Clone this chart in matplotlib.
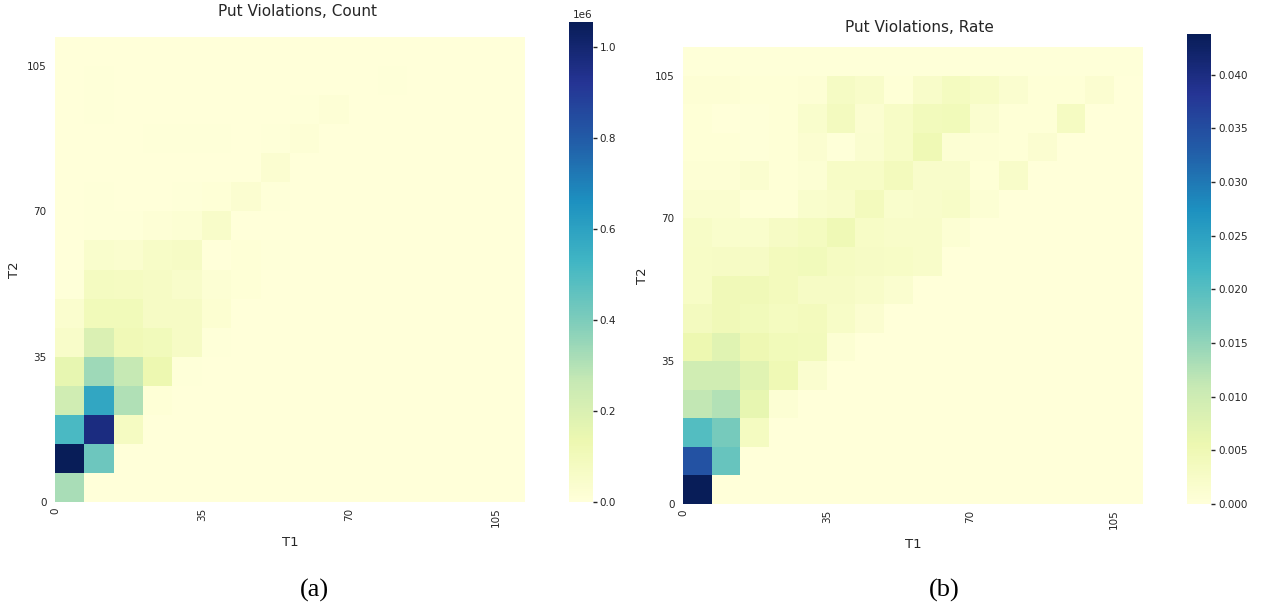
import numpy as np
import matplotlib.pyplot as plt

plt.rcParams["font.family"] = ["DejaVu Sans"]
plt.rcParams["text.color"] = ".15"
plt.rcParams["axes.labelcolor"] = ".15"

# T1 / T2 binned in steps of 7 (16 bins each)
t_edges = np.arange(0, 113, 7)
t_ticks = [0, 35, 70, 105]

# put violations per (T2 row, T1 column), in thousands; row 0 = lowest T2 bin
count_k = [
    [319, 0, 0, 0, 0, 0, 0, 0, 0, 0, 0, 0, 0, 0, 0, 0],
    [1055, 436, 0, 0, 0, 0, 0, 0, 0, 0, 0, 0, 0, 0, 0, 0],
    [508, 967, 76, 0, 0, 0, 0, 0, 0, 0, 0, 0, 0, 0, 0, 0],
    [232, 585, 306, 10, 0, 0, 0, 0, 0, 0, 0, 0, 0, 0, 0, 0],
    [156, 341, 267, 135, 5, 0, 0, 0, 0, 0, 0, 0, 0, 0, 0, 0],
    [56, 201, 115, 99, 69, 6, 0, 0, 0, 0, 0, 0, 0, 0, 0, 0],
    [40, 105, 105, 69, 66, 26, 3, 0, 0, 0, 0, 0, 0, 0, 0, 0],
    [6, 80, 78, 69, 52, 23, 12, 3, 0, 0, 0, 0, 0, 0, 0, 0],
    [4, 43, 40, 59, 69, 4, 9, 6, 2, 0, 0, 0, 0, 0, 0, 0],
    [3, 5, 5, 14, 23, 56, 4, 3, 2, 1, 0, 0, 0, 0, 0, 0],
    [3, 7, 3, 3, 5, 9, 30, 5, 3, 2, 1, 0, 0, 0, 0, 0],
    [4, 4, 4, 3, 3, 3, 4, 30, 3, 2, 1, 1, 0, 0, 0, 0],
    [2, 3, 3, 6, 6, 5, 3, 5, 16, 2, 2, 1, 1, 0, 0, 0],
    [2, 6, 3, 3, 4, 4, 4, 4, 5, 16, 2, 1, 1, 1, 0, 0],
    [2, 6, 2, 2, 2, 3, 3, 4, 3, 3, 3, 5, 2, 1, 1, 0],
    [2, 2, 2, 2, 2, 2, 2, 2, 2, 2, 2, 2, 3, 1, 1, 1],
]

# violation rate per cell, per mille
rate_pm = [
    [43.8, 0, 0, 0, 0, 0, 0, 0, 0, 0, 0, 0, 0, 0, 0, 0],
    [34.3, 18.6, 0, 0, 0, 0, 0, 0, 0, 0, 0, 0, 0, 0, 0, 0],
    [20.2, 17.2, 3.4, 0, 0, 0, 0, 0, 0, 0, 0, 0, 0, 0, 0, 0],
    [11.3, 12.5, 6.5, 1.0, 0, 0, 0, 0, 0, 0, 0, 0, 0, 0, 0, 0],
    [9.6, 9.6, 7.4, 5.1, 1.4, 0, 0, 0, 0, 0, 0, 0, 0, 0, 0, 0],
    [5.5, 7.5, 5.3, 4.4, 4.0, 1.0, 0, 0, 0, 0, 0, 0, 0, 0, 0, 0],
    [3.6, 4.5, 4.2, 3.5, 3.8, 2.5, 1.2, 0, 0, 0, 0, 0, 0, 0, 0, 0],
    [2.7, 4.5, 4.5, 3.8, 2.9, 2.9, 2.3, 1.5, 0, 0, 0, 0, 0, 0, 0, 0],
    [2.6, 2.9, 2.9, 3.8, 4.2, 3.1, 2.9, 2.6, 2.3, 0, 0, 0, 0, 0, 0, 0],
    [2.5, 1.8, 1.8, 2.9, 3.5, 4.9, 2.6, 2.3, 2.3, 1.0, 0, 0, 0, 0, 0, 0],
    [1.4, 1.4, 0.5, 0.5, 1.8, 2.3, 3.8, 1.8, 2.2, 2.5, 1.0, 0, 0, 0, 0, 0],
    [0.7, 0.7, 1.5, 0.5, 1.0, 2.6, 2.6, 3.8, 2.2, 2.2, 0.4, 2.3, 0, 0, 0, 0],
    [0.5, 0.4, 0.3, 0.5, 1.2, 0.3, 1.4, 2.6, 5.0, 1.0, 0.8, 0.4, 1.2, 0, 0, 0],
    [0.5, 0.1, 0.3, 0.5, 1.8, 3.6, 1.2, 2.7, 4.0, 4.4, 1.4, 0.4, 0.4, 3.1, 0, 0],
    [0.7, 0.7, 0.4, 0.4, 0.8, 3.0, 2.3, 0.5, 2.3, 3.5, 2.6, 1.4, 0.4, 0.4, 1.2, 0],
    [0.3, 0.3, 0.3, 0.3, 0.3, 0.3, 0.3, 0.3, 0.3, 0.3, 0.3, 0.3, 0.3, 0.3, 0.3, 0.2],
]

count = np.array(count_k, dtype=float) * 1e3
rate = np.array(rate_pm, dtype=float) * 1e-3

count_cbar_ticks = np.arange(0, 1.0e6 + 1, 2e5)
rate_cbar_ticks = np.arange(0, 0.0401, 0.005)


def heat(fig, data, title, ax_rect, cax_rect, cticks, cfmt, tag, tag_x, title_pad):
    ax = fig.add_axes(ax_rect)
    mesh = ax.pcolormesh(t_edges, t_edges, data, cmap="YlGnBu",
                         vmin=0, vmax=data.max(), shading="flat")
    ax.set_xlim(t_edges[0], t_edges[-1]); ax.set_ylim(t_edges[0], t_edges[-1])
    for s in ax.spines.values():
        s.set_visible(False)
    ax.set_xticks(t_ticks); ax.set_yticks(t_ticks)
    ax.tick_params(axis="both", length=0, labelsize=7.5, labelcolor=".15")
    ax.tick_params(axis="x", labelrotation=90, pad=4)
    ax.tick_params(axis="y", pad=6)
    ax.set_xlabel("T1", fontsize=9.5, labelpad=6)
    ax.set_ylabel("T2", fontsize=9.5, labelpad=4)
    ax.set_title(title, fontsize=11, color=".15", pad=title_pad, x=0.515)

    cax = fig.add_axes(cax_rect)
    cb = fig.colorbar(mesh, cax=cax)
    cb.outline.set_visible(False)
    cb.set_ticks(cticks)
    if cfmt:
        cb.ax.set_yticklabels([cfmt.format(v) for v in cticks])
    cax.tick_params(length=3, width=1, color=".15", labelsize=7.5,
                    labelcolor=".15", pad=2)
    cax.yaxis.get_offset_text().set_fontsize(7.5)

    fig.text(tag_x, 0.03, tag, family="Liberation Serif", fontsize=19,
             ha="center", va="center", color="black")
    return ax


fig = plt.figure(figsize=(12.61, 6.09), dpi=100)
heat(fig, count, "Put Violations, Count",
     [0.0436, 0.1757, 0.3727, 0.7635], [0.4512, 0.1757, 0.019, 0.788],
     count_cbar_ticks, None, "(a)", 0.249, 15)
heat(fig, rate, "Put Violations, Rate",
     [0.5416, 0.1724, 0.3648, 0.7504], [0.9413, 0.1724, 0.019, 0.7718],
     rate_cbar_ticks, "{:.3f}", "(b)", 0.749, 11)
fig.savefig("out.png", dpi=100)
